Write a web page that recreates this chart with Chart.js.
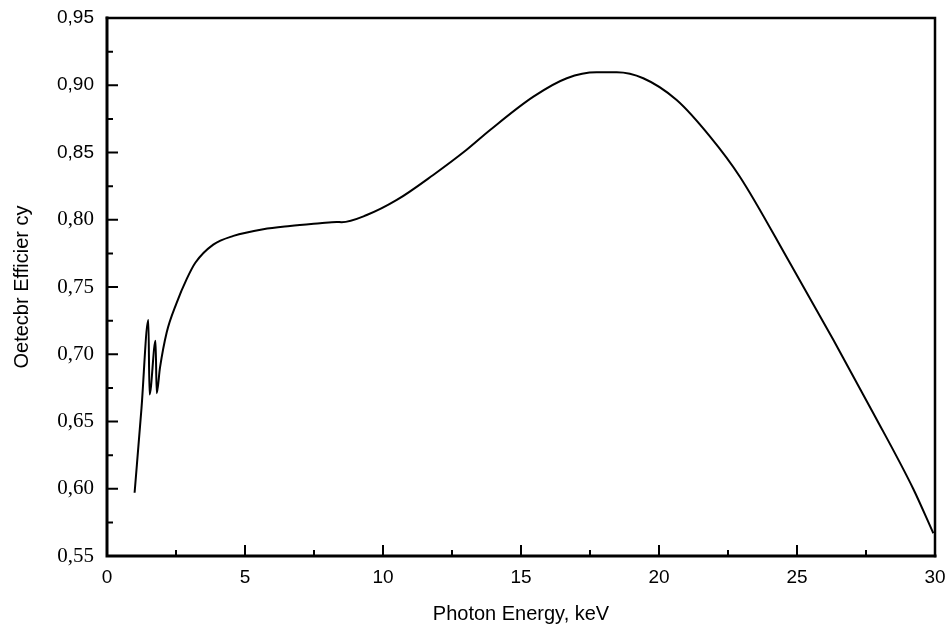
<!DOCTYPE html>
<html>
<head>
<meta charset="utf-8">
<script src="https://cdn.jsdelivr.net/npm/chart.js@4.4.1/dist/chart.umd.min.js"></script>
<style>
  html, body { margin: 0; padding: 0; background: #fff; }
  #wrap { width: 951px; height: 636px; }
</style>
</head>
<body>
<div id="wrap"><canvas id="chart" width="951" height="636"></canvas></div>
<script>
// photon energy (keV) and detector efficiency
const energy = [1.0, 1.25, 1.5, 1.54, 1.76, 1.80, 1.92, 2.16, 2.52, 2.89, 3.2, 3.85, 4.58,
  5.66, 6.63, 7.72, 8.32, 8.5, 9.41, 10.5, 11.82, 13.03, 13.88, 15.45, 16.66, 17.74,
  18.47, 19.43, 20.64, 21.85, 22.93, 24.75, 26.32, 27.77, 29.21, 29.94];
const efficiency = [0.597, 0.66, 0.7255, 0.670, 0.710, 0.671, 0.690, 0.716, 0.738, 0.756, 0.768, 0.7815, 0.788,
  0.793, 0.7954, 0.7974, 0.7984, 0.7982, 0.8035, 0.8147, 0.8333, 0.852, 0.8667, 0.8915, 0.9052, 0.9096,
  0.9096, 0.9052, 0.889, 0.8618, 0.832, 0.7676, 0.7106, 0.656, 0.600, 0.5669];

const xTicks = [0, 5, 10, 15, 20, 25, 30];
const yTicks = [0.55, 0.60, 0.65, 0.70, 0.75, 0.80, 0.85, 0.90, 0.95];

// frame + inward ticks, drawn from the chart's scales
const frame = {
  id: 'frame',
  afterDraw(chart) {
    const { ctx, chartArea: a, scales: { x, y } } = chart;
    ctx.save();
    ctx.strokeStyle = '#000';
    ctx.lineCap = 'square';
    ctx.lineWidth = 3;
    ctx.beginPath();
    ctx.moveTo(a.left, a.top); ctx.lineTo(a.left, a.bottom); ctx.lineTo(a.right, a.bottom);
    ctx.stroke();
    ctx.lineWidth = 2.5;
    ctx.beginPath();
    ctx.moveTo(a.left, a.top); ctx.lineTo(a.right, a.top); ctx.lineTo(a.right, a.bottom);
    ctx.stroke();
    ctx.lineWidth = 2;
    ctx.beginPath();
    for (let v = 0; v <= 30; v += 2.5) {
      const px = x.getPixelForValue(v);
      const len = v % 5 === 0 ? 10 : 5;
      ctx.moveTo(px, a.bottom); ctx.lineTo(px, a.bottom - len);
    }
    for (let i = 0; i <= 16; i++) {
      const v = 0.55 + i * 0.025;
      const py = y.getPixelForValue(v);
      const len = i % 2 === 0 ? 10 : 5;
      ctx.moveTo(a.left, py); ctx.lineTo(a.left + len, py);
    }
    ctx.stroke();
    ctx.restore();
  }
};

new Chart(document.getElementById('chart'), {
  type: 'line',
  data: {
    datasets: [{
      data: energy.map((e, i) => ({ x: e, y: efficiency[i] })),
      borderColor: '#000',
      borderWidth: 2,
      pointRadius: 0,
      cubicInterpolationMode: 'monotone',
      fill: false
    }]
  },
  options: {
    responsive: false,
    animation: false,
    layout: { padding: { left: 0, right: 16, top: 18, bottom: 0 } },
    plugins: { legend: { display: false }, tooltip: { enabled: false } },
    scales: {
      x: {
        type: 'linear',
        min: 0, max: 30,
        afterFit: s => { s.height = 80; s.paddingLeft = 0; s.paddingRight = 0; },
        afterBuildTicks: s => { s.ticks = xTicks.map(v => ({ value: v })); },
        grid: { display: false, drawTicks: false },
        border: { display: false },
        ticks: {
          color: '#000',
          padding: 10,
          font: { family: 'Liberation Sans', size: 19 },
          callback: v => String(v)
        },
        title: {
          display: true,
          text: 'Photon Energy, keV',
          color: '#000',
          font: { family: 'Liberation Sans', size: 20 },
          padding: { top: 0, bottom: 10 }
        }
      },
      y: {
        min: 0.55, max: 0.95,
        afterFit: s => { s.width = 107; s.paddingTop = 0; s.paddingBottom = 0; },
        afterBuildTicks: s => { s.ticks = yTicks.map(v => ({ value: v })); },
        grid: { display: false, drawTicks: false },
        border: { display: false },
        ticks: {
          color: '#000',
          padding: 13,
          font: ctx => ({
            family: ctx.tick && ctx.tick.value >= 0.849 ? 'Liberation Sans' : 'Liberation Serif',
            size: ctx.tick && ctx.tick.value >= 0.849 ? 19 : 21
          }),
          callback: v => v.toFixed(2).replace('.', ',')
        },
        title: {
          display: true,
          text: 'Oetecbr Efficier cy',
          color: '#000',
          font: { family: 'Liberation Sans', size: 20 },
          padding: { top: 10, bottom: 0 }
        }
      }
    }
  },
  plugins: [frame]
});
</script>
</body>
</html>
